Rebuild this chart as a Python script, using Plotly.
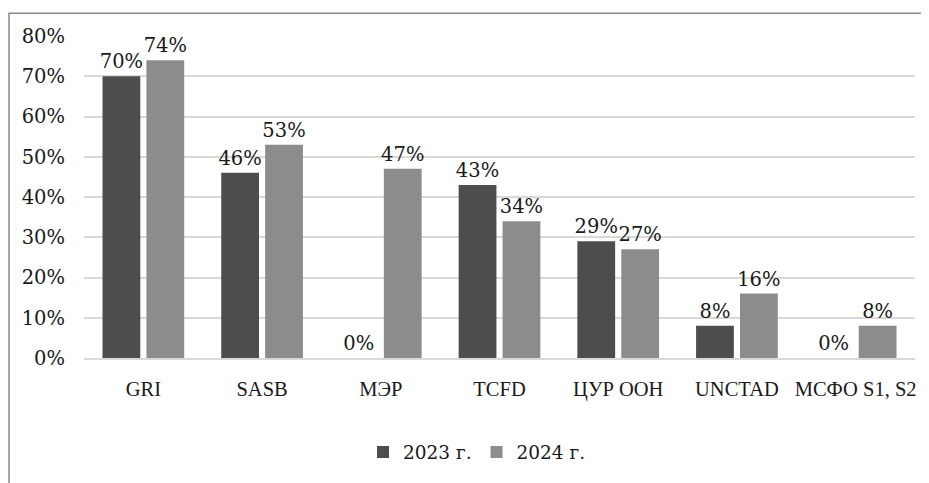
import plotly.graph_objects as go

categories = ["GRI", "SASB", "МЭР", "TCFD", "ЦУР ООН", "UNCTAD", "МСФО S1, S2"]
values_2023 = [0.70, 0.46, 0.00, 0.43, 0.29, 0.08, 0.00]
values_2024 = [0.74, 0.53, 0.47, 0.34, 0.27, 0.16, 0.08]
series_names = ["2023 г.", "2024 г."]
y_ticks = [0, 0.1, 0.2, 0.3, 0.4, 0.5, 0.6, 0.7, 0.8]

OFF = 8  # browser default body margin
W, H = 929 - OFF, 483 - OFF
L, R, T, B = 84 - OFF, 14, 36 - OFF, 123
FONT = "DejaVu Serif"
CAT_FONT = "Liberation Serif"
fs = 19.5

fig = go.Figure()
for name, vals, col in [(series_names[0], values_2023, "#4d4d4d"),
                        (series_names[1], values_2024, "#8c8c8c")]:
    fig.add_trace(go.Bar(
        x=categories, y=vals, name=name, marker=dict(color=col, line=dict(width=0)),
        text=[f"{round(v*100)}%" for v in vals], textposition="outside",
        constraintext="none",
        textfont=dict(family=FONT, size=fs, color="#1a1a1a"), cliponaxis=False,
    ))

pw = W - L - R
ph = H - T - B
def px_x(p):
    return (p - OFF - L) / pw
def px_y(p):
    return (H - B - (p - OFF)) / ph

fig.update_layout(
    width=W, height=H, margin=dict(l=L, r=R, t=T, b=B),
    paper_bgcolor="white", plot_bgcolor="white",
    barmode="group", bargap=0.26, bargroupgap=0.14,
    font=dict(family=FONT, size=fs, color="#1a1a1a"),
    showlegend=True,
    legend=dict(orientation="h", x=px_x(477), y=px_y(455), xanchor="center", yanchor="middle",
                font=dict(family=FONT, size=18.5), itemwidth=30, traceorder="normal"),
    xaxis=dict(showgrid=False, showline=True, linecolor="#d9d9d9", linewidth=1.5,
               ticks="", ticklabelstandoff=12, tickfont=dict(family=CAT_FONT, size=20.5)),
    yaxis=dict(range=[0, 0.8], tickvals=y_ticks, tickformat=".0%", showgrid=True,
               gridcolor="#d9d9d9", gridwidth=1.5, zeroline=False, showline=False,
               ticks="", ticklabelstandoff=18, tickfont=dict(family=FONT, size=fs)),
    shapes=[dict(type="rect", xref="paper", yref="paper",
                 x0=px_x(OFF + 1), x1=px_x(960), y0=px_y(13), y1=px_y(520),
                 line=dict(color="#8a8a8a", width=1.5), fillcolor="rgba(0,0,0,0)", layer="below")],
)

fig.write_html("out.html")
